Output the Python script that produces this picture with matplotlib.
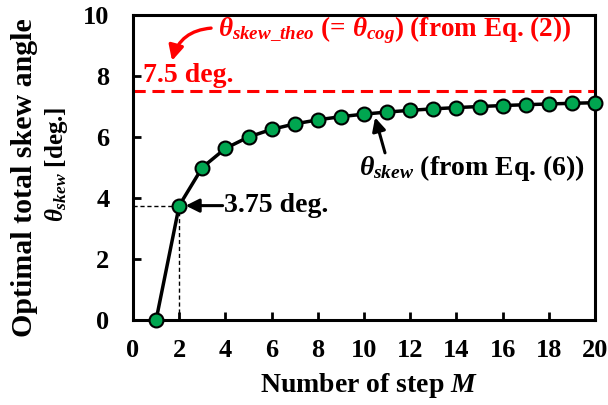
import matplotlib
matplotlib.use("Agg")
import matplotlib.pyplot as plt

plt.rcParams['font.family'] = ['Liberation Serif', 'DejaVu Serif']
plt.rcParams['font.weight'] = 'bold'
plt.rcParams['mathtext.fontset'] = 'custom'
plt.rcParams['mathtext.rm'] = 'Liberation Serif:bold'
plt.rcParams['mathtext.it'] = 'Liberation Serif:italic:bold'
plt.rcParams['mathtext.bf'] = 'Liberation Serif:bold'

# Number of steps and optimal skew angle
steps = [1, 2, 3, 4, 5, 6, 7, 8, 9, 10, 11, 12, 13, 14, 15, 16, 17, 18, 19, 20]
skew_deg = [0.0, 3.75, 5.0, 5.625, 6.0, 6.25, 6.429, 6.5625, 6.667, 6.75,
            6.818, 6.875, 6.923, 6.964, 7.0, 7.031, 7.059, 7.083, 7.105, 7.125]
theo_deg = 7.5
xticks = [0, 2, 4, 6, 8, 10, 12, 14, 16, 18, 20]
yticks = [0, 2, 4, 6, 8, 10]

W, H = 608, 405
fig = plt.figure(figsize=(W / 100, H / 100), dpi=100)
ax = fig.add_axes([133 / W, 1 - 320 / H, 462 / W, 305 / H])

ax.axhline(theo_deg, color='#ff0000', lw=2.2, ls=(0, (4, 2.2)), zorder=2)
ax.plot([0, steps[1]], [skew_deg[1]] * 2, color='black', lw=1, ls=(0, (3, 2)), zorder=2)
ax.plot([steps[1]] * 2, [0, skew_deg[1]], color='black', lw=1, ls=(0, (3, 2)), zorder=2)
ax.plot(steps, skew_deg, color='black', lw=2.5, marker='o', ms=10,
        mfc='#00a650', mec='black', mew=1.5, zorder=3, clip_on=False)

ax.set_xlim(0, 20)
ax.set_ylim(0, 10)
ax.set_xticks(xticks)
ax.set_yticks(yticks)
ax.tick_params(direction='in', length=6, width=2, labelsize=19)
ax.tick_params(axis='x', pad=14)
ax.tick_params(axis='y', pad=17)
for s in ax.spines.values():
    s.set_linewidth(2.2)

# Axis titles
fig.text(369 / W, 1 - 385 / H, 'Number of step $\\mathit{M}$', fontsize=20,
         fontweight='bold', ha='center', va='center')
fig.text(25 / W, 1 - 178 / H, 'Optimal total skew angle', fontsize=21.5,
         fontweight='bold', ha='center', va='center', rotation=90)
fig.text(57 / W, 1 - 164 / H, '$\\theta_{skew}$ [deg.]', fontsize=18,
         fontweight='bold', ha='center', va='center', rotation=90)

# Theoretical line annotation
ax.text(3.68, 9.51, '$\\theta_{skew\\_theo}$ (= $\\theta_{cog}$) (from Eq. (2))', color='#ff0000',
        fontsize=19.5, fontweight='bold', va='center', ha='left')
ax.annotate('', xy=(1.69, 8.5), xytext=(3.38, 9.57),
            arrowprops=dict(arrowstyle='-|>,head_width=0.45,head_length=0.9', color='#ff0000', lw=2.4,
                            connectionstyle='arc3,rad=0.35', shrinkA=0, shrinkB=0))
ax.text(0.45, 8.03, '7.5 deg.', color='#ff0000', fontsize=20, fontweight='bold',
        va='center', ha='left')

# Curve annotation
ax.annotate('', xy=(10.48, 6.64), xytext=(10.91, 5.48),
            arrowprops=dict(arrowstyle='-|>,head_width=0.4,head_length=0.8', color='black', lw=2.2,
                            shrinkA=0, shrinkB=0))
ax.text(9.8, 4.98, '$\\theta_{skew}$ (from Eq. (6))', color='black', fontsize=20,
        fontweight='bold', va='center', ha='left')

# Marked value at two steps
ax.annotate('', xy=(2.28, skew_deg[1]), xytext=(3.88, skew_deg[1]),
            arrowprops=dict(arrowstyle='-|>,head_width=0.4,head_length=0.8', color='black', lw=2.2,
                            shrinkA=0, shrinkB=0))
ax.text(3.95, skew_deg[1], '3.75 deg.', color='black', fontsize=20, fontweight='bold',
        va='center', ha='left')

fig.savefig('out.png', dpi=100)
